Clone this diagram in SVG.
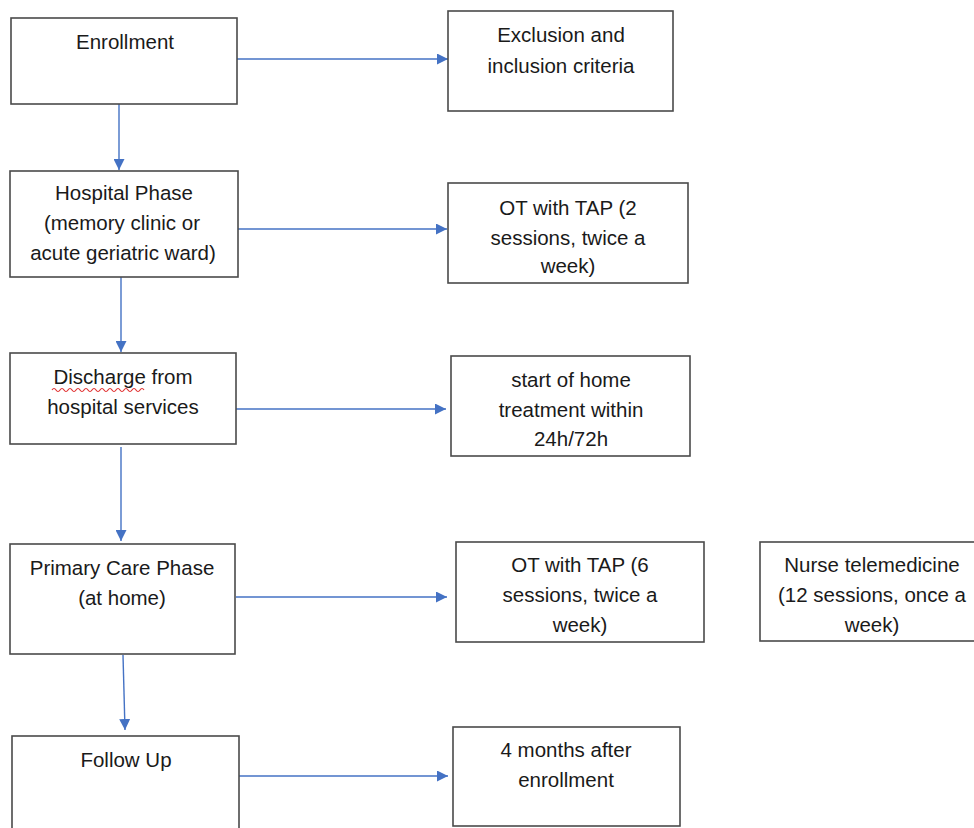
<svg xmlns="http://www.w3.org/2000/svg" width="974" height="828" viewBox="0 0 974 828">
<style>
.box{fill:#fff;stroke:#4a4a4a;stroke-width:1.6}
.t{font-family:"Liberation Sans",Arial,sans-serif;font-size:20.5px;fill:#1a1a1a;text-anchor:middle}
.c{stroke:#4472C4;stroke-width:1.4;fill:none}
</style>
<defs>
<marker id="ah" markerWidth="11" markerHeight="11" refX="11" refY="5.5" orient="auto" markerUnits="userSpaceOnUse">
<path d="M0,0 L11,5.5 L0,11 Z" fill="#4472C4"/>
</marker>
</defs>
<rect width="974" height="828" fill="#fff"/>
<g id="connectors">
<line class="c" x1="237" y1="59" x2="448" y2="59" marker-end="url(#ah)"/>
<line class="c" x1="119" y1="104" x2="119" y2="170" marker-end="url(#ah)"/>
<line class="c" x1="234" y1="229" x2="447" y2="229" marker-end="url(#ah)"/>
<line class="c" x1="121" y1="277" x2="121" y2="352" marker-end="url(#ah)"/>
<line class="c" x1="234" y1="409" x2="446" y2="409" marker-end="url(#ah)"/>
<line class="c" x1="121" y1="447" x2="121" y2="541" marker-end="url(#ah)"/>
<line class="c" x1="236" y1="597" x2="447" y2="597" marker-end="url(#ah)"/>
<line class="c" x1="123" y1="655" x2="125" y2="730" marker-end="url(#ah)"/>
<line class="c" x1="239" y1="776" x2="448" y2="776" marker-end="url(#ah)"/>
</g>
<g id="enrollment">
<rect class="box" x="11" y="18" width="226" height="86"/>
<text class="t" x="125" y="49">Enrollment</text>
</g>
<g id="criteria">
<rect class="box" x="448" y="11" width="225" height="100"/>
<text class="t" x="561" y="42">Exclusion and</text>
<text class="t" x="561" y="73">inclusion criteria</text>
</g>
<g id="hospital">
<rect class="box" x="10" y="171" width="228" height="106"/>
<text class="t" x="124" y="200">Hospital Phase</text>
<text class="t" x="122" y="230">(memory clinic or</text>
<text class="t" x="123" y="260">acute geriatric ward)</text>
</g>
<g id="ot2">
<rect class="box" x="448" y="183" width="240" height="100"/>
<text class="t" x="568" y="215">OT with TAP (2</text>
<text class="t" x="568" y="245">sessions, twice a</text>
<text class="t" x="568" y="273">week)</text>
</g>
<g id="discharge">
<rect class="box" x="10" y="353" width="226" height="91"/>
<text class="t" x="123" y="384">Discharge from</text>
<text class="t" x="123" y="414">hospital services</text>
<path d="M52,390 q2,-3 4,0 t4,0 t4,0 t4,0 t4,0 t4,0 t4,0 t4,0 t4,0 t4,0 t4,0 t4,0 t4,0 t4,0 t4,0 t4,0 t4,0 t4,0 t4,0 t4,0 t4,0 t4,0 t4,0" fill="none" stroke="#e03030" stroke-width="1.2"/>
</g>
<g id="home">
<rect class="box" x="451" y="356" width="239" height="100"/>
<text class="t" x="571" y="387">start of home</text>
<text class="t" x="571" y="417">treatment within</text>
<text class="t" x="571" y="446">24h/72h</text>
</g>
<g id="primary">
<rect class="box" x="10" y="544" width="225" height="110"/>
<text class="t" x="122" y="575">Primary Care Phase</text>
<text class="t" x="122" y="605">(at home)</text>
</g>
<g id="ot6">
<rect class="box" x="456" y="542" width="248" height="100"/>
<text class="t" x="580" y="572">OT with TAP (6</text>
<text class="t" x="580" y="602">sessions, twice a</text>
<text class="t" x="580" y="632">week)</text>
</g>
<g id="nurse">
<rect class="box" x="760" y="542" width="222" height="99"/>
<text class="t" x="872" y="572">Nurse telemedicine</text>
<text class="t" x="872" y="602">(12 sessions, once a</text>
<text class="t" x="872" y="632">week)</text>
</g>
<g id="followup">
<rect class="box" x="12" y="736" width="227" height="100"/>
<text class="t" x="126" y="767">Follow Up</text>
</g>
<g id="months">
<rect class="box" x="453" y="727" width="227" height="99"/>
<text class="t" x="566" y="757">4 months after</text>
<text class="t" x="566" y="787">enrollment</text>
</g>
</svg>
